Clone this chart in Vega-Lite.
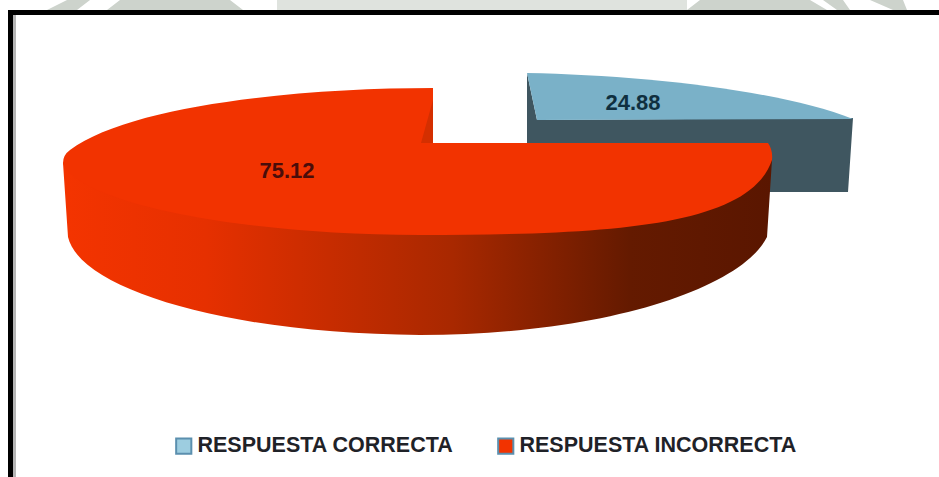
{
"$schema":"https://vega.github.io/schema/vega-lite/v6.json",
"width":939,"height":477,"padding":0,"autosize":"none","background":"white",
"config":{"view":{"stroke":null}},
"data":{"values":[{"respuesta":"RESPUESTA CORRECTA","valor":24.88},{"respuesta":"RESPUESTA INCORRECTA","valor":75.12}]},
"layer":[
{"transform":[{"filter":"datum.valor<50"}],"mark":{"type":"point","filled":true,"opacity":1,"size":4,"strokeWidth":0,"color":"#dfe3de","shape":"M-192.5,-228.5 L-192.5,-238.5 L217.5,-238.5 L217.5,-228.5Z"}},
{"transform":[{"filter":"datum.valor<50"}],"mark":{"type":"point","filled":true,"opacity":1,"size":4,"strokeWidth":0,"color":"#cdd3cc","shape":"M-422.5,-228.5 L-402.5,-238.5 L-379.5,-238.5 L-392.5,-228.5Z M-362.5,-228.5 L-349.5,-238.5 L-239.5,-238.5 L-226.5,-228.5Z M217.5,-228.5 L230.5,-238.5 L340.5,-238.5 L357.5,-228.5Z M367.5,-228.5 L353.5,-238.5 L373.5,-238.5 L380.5,-228.5Z M423.5,-228.5 L400.5,-238.5 L433.5,-238.5 L437.5,-228.5Z"}},
{"transform":[{"filter":"datum.valor<50"}],"mark":{"type":"point","filled":true,"opacity":1,"size":4,"strokeWidth":0,"color":"#b5b5b5","shape":"M-456.5,-223.5 L-453.5,-223.5 L-453.5,238.5 L-456.5,238.5Z"}},
{"transform":[{"filter":"datum.valor<50"}],"mark":{"type":"point","filled":true,"opacity":1,"size":4,"strokeWidth":0,"color":"#000000","shape":"M-461.5,-228.5 L469.5,-228.5 L469.5,-223.5 L-456.5,-223.5 L-456.5,238.5 L-461.5,238.5Z"}},
{"transform":[{"filter":"datum.valor<50"}],"mark":{"type":"point","filled":true,"opacity":1,"size":4,"strokeWidth":0,"color":"#3f5660","shape":"M57.5,-165.5 L67.5,-118.5 L383.5,-120.5 L378.5,-46.5 L57.5,-46.5 Z"}},
{"transform":[{"filter":"datum.valor<50"}],"mark":{"type":"point","filled":true,"opacity":1,"size":4,"strokeWidth":0,"color":"#7ab1c8","shape":"M57.5,-165.5 C170.5,-163.5 310.5,-148.5 383.5,-119.5 L67.5,-118.5 Z"}},
{"transform":[{"filter":"datum.valor>50"}],"mark":{"type":"point","filled":true,"opacity":1,"size":4,"strokeWidth":0,
 "color":{"gradient":"linear","x1":0,"x2":1,"y1":0,"y2":0,"stops":[{"offset":0,"color":"#f43400"},{"offset":0.2,"color":"#e63000"},{"offset":0.55,"color":"#a82800"},{"offset":0.8,"color":"#641a00"},{"offset":1,"color":"#5a1600"}]},
 "shape":"M-406.5,-75.5 L-401.5,-1.5 C-389.5,51.5 -239.5,95.5 -49.5,96.5 C130.5,96.5 270.5,51.5 297.5,-1.5 L302.5,-78.5 L-49.5,-38.5 Z"}},
{"transform":[{"filter":"datum.valor>50"}],"mark":{"type":"point","filled":true,"opacity":1,"size":4,"strokeWidth":0,"color":"#f23300","shape":"M-36.5,-150.5 C-169.5,-150.5 -339.5,-133.5 -399.5,-88.5 Q-406.5,-83.5 -406.5,-75.5 C-394.5,-38.5 -239.5,-3.5 -49.5,-3.5 C150.5,-3.5 280.5,-13.5 302.5,-78.5 Q303.5,-88.5 298.5,-95.5 L-36.5,-95.5 Z"}},
{"transform":[{"filter":"datum.valor>50"}],"mark":{"type":"point","filled":true,"opacity":1,"size":4,"strokeWidth":0,"color":"#d42f00","shape":"M-36.5,-138.5 L-36.5,-95.5 L-48.5,-95.5Z"}},
{"transform":[{"filter":"datum.valor>50"}],"mark":{"type":"text","dx":-182.5,"dy":-67.5,"font":"Liberation Sans","fontWeight":"bold","fontSize":22,"color":"#4a0d0a"},"encoding":{"text":{"field":"valor","type":"quantitative","format":".2f"}}},
{"transform":[{"filter":"datum.valor<50"}],"mark":{"type":"text","dx":163.5,"dy":-135.5,"font":"Liberation Sans","fontWeight":"bold","fontSize":22,"color":"#0f2f3f"},"encoding":{"text":{"field":"valor","type":"quantitative","format":".2f"}}},
{"mark":{"type":"point","filled":true,"opacity":1,"size":0,"strokeWidth":0},
 "encoding":{
  "color":{"field":"respuesta","type":"nominal","title":null,
   "scale":{"domain":["RESPUESTA CORRECTA","RESPUESTA INCORRECTA"],"range":["#9dcde0","#f23300"]},
   "legend":{"orient":"none","legendX":173,"legendY":435,"direction":"horizontal","columns":2,"columnPadding":40,"symbolType":"square","symbolSize":230,"symbolStrokeWidth":2,"symbolStrokeColor":"#5b8fae","labelOffset":3,
    "labelFont":"Liberation Sans","labelFontWeight":"bold","labelFontSize":21.5,"labelColor":"#1f2228","labelLimit":320,
    "encode":{"symbols":{"update":{"stroke":{"signal":"datum.value==='RESPUESTA CORRECTA'?'#5b8fae':'#c8401a'"}}}}}}}}
]
}
